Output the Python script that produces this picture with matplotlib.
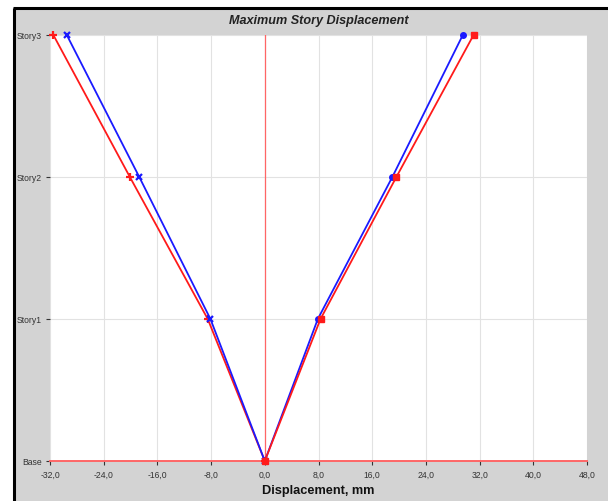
import matplotlib
matplotlib.use("Agg")
import matplotlib.pyplot as plt
from matplotlib.patches import Rectangle
from matplotlib.lines import Line2D

stories = ["Base", "Story1", "Story2", "Story3"]
red_neg = [0.0, -8.5, -20.1, -31.5]
blue_neg = [0.0, -8.1, -18.7, -29.5]
red_pos = [0.0, 8.3, 19.6, 31.1]
blue_pos = [0.0, 7.9, 19.0, 29.5]
xticks = [-32, -24, -16, -8, 0, 8, 16, 24, 32, 40, 48]
xtick_labels = ["-32,0", "-24,0", "-16,0", "-8,0", "0,0", "8,0", "16,0", "24,0", "32,0", "40,0", "48,0"]

plt.rcParams['font.family'] = ['Liberation Sans', 'DejaVu Sans']

W, H = 608, 502
fig = plt.figure(figsize=(W / 100, H / 100), dpi=100)
fig.patch.set_facecolor("white")

# gray panel + black frame
fig.patches.append(Rectangle((15 / W, 0), 1 - 15 / W, 1 - 10 / H, transform=fig.transFigure,
                             facecolor="#d3d3d3", edgecolor="none", zorder=-2))
fig.lines.append(Line2D([14 / W, 14 / W], [0, 1 - 9 / H], transform=fig.transFigure,
                        color="black", lw=2.2, zorder=-1, solid_capstyle="butt"))
fig.lines.append(Line2D([13 / W, 1], [1 - 9 / H, 1 - 9 / H], transform=fig.transFigure,
                        color="black", lw=2.2, zorder=-1, solid_capstyle="butt"))

ax = fig.add_axes([50 / W, 1 - 462 / H, 537 / W, 426 / H])
ax.set_zorder(2)
ax.set_facecolor("white")
ys = list(range(len(stories)))

ax.set_xlim(-32, 48)
ax.set_ylim(0, 3)
ax.set_xticks(xticks)
ax.set_xticklabels(xtick_labels, fontsize=6.2, color="#333333")
ax.set_yticks(ys)
ax.set_yticklabels(stories, fontsize=6.2, color="#333333")
ax.tick_params(axis="x", length=3, width=0.8, color="#333333", pad=3.5)
ax.tick_params(axis="y", length=3, width=0.8, color="#333333", pad=3)
ax.grid(True, color="#e2e2e2", lw=0.8)
ax.set_axisbelow(True)
for s in ax.spines.values():
    s.set_visible(False)

ax.axvline(0, color="#ff6666", lw=0.9, zorder=1.5)
ax.axhline(0, color="#ff6666", lw=1.4, zorder=1.5, clip_on=False)

lw = 1.3
ax.plot(red_neg, ys, color="#ff1a1a", lw=lw, marker="+", ms=6, mew=1.6, zorder=3, clip_on=False)
ax.plot(blue_neg, ys, color="#1a1aff", lw=lw, marker="x", ms=4.5, mew=1.6, zorder=3, clip_on=False)
ax.plot(blue_pos, ys, color="#1a1aff", lw=lw, marker="o", ms=4, zorder=3, clip_on=False)
ax.plot(red_pos, ys, color="#ff1a1a", lw=lw, marker="s", ms=4, zorder=3, clip_on=False)

fig.text(318.5 / W, 1 - 21 / H, "Maximum Story Displacement", ha="center", va="center",
         fontsize=9.1, fontweight="bold", fontstyle="italic", color="#222222")
fig.text(318.5 / W, 1 - 491 / H, "Displacement, mm", ha="center", va="center",
         fontsize=9.2, fontweight="bold", color="#111111")

fig.savefig("out.png", dpi=100)
